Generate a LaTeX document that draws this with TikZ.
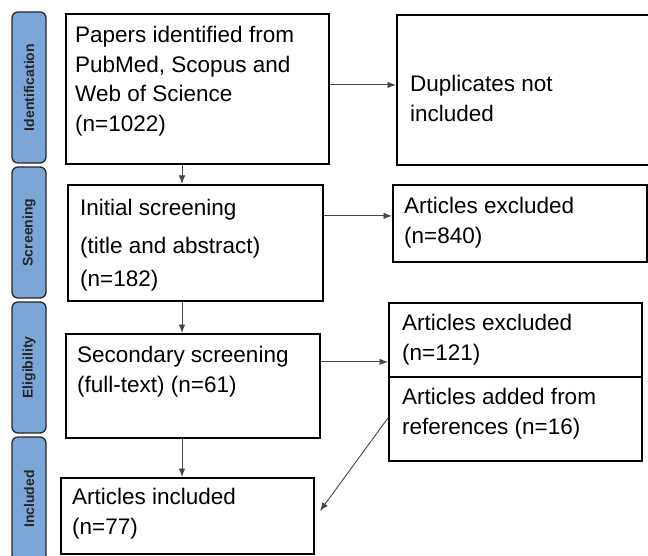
\documentclass[tikz,border=0pt]{standalone}
\usepackage{fontspec}
\setmainfont{Liberation Sans}
\usetikzlibrary{arrows.meta}
\definecolor{sideblue}{RGB}{125,166,216}
\definecolor{arrgray}{RGB}{70,70,70}
\begin{document}
\begin{tikzpicture}[x=1pt,y=-1pt,
  sidebar/.style={draw=black!85, line width=1.3pt, fill=sideblue, rounded corners=6pt,
    minimum height=34pt, inner sep=0pt, rotate=90,
    font=\fontsize{14}{16}\selectfont\bfseries, text=black!85},
  box/.style={draw=black, line width=1.8pt, inner sep=0pt, anchor=north west},
  txt/.style={anchor=north west, inner sep=0pt, align=left,
    font=\fontsize{22.5}{29.5}\selectfont},
  arr/.style={draw=arrgray, line width=0.9pt, -{Latex[length=8.5pt,width=6.5pt]}}]
\useasboundingbox (0,0) rectangle (648,556);
\clip (0,0) rectangle (648,556);
% side bars
\node[sidebar, minimum width=151pt] (sid) at (29,87.5) {Identification};
\node[sidebar, minimum width=131pt] (sscr) at (29,232.5) {Screening};
\node[sidebar, minimum width=131pt] (self) at (29,367.5) {Eligibility};
\node[sidebar, minimum width=124pt] (sinc) at (29,499) {Included};
% boxes
\node[box, minimum width=263pt, minimum height=150pt] (p1) at (65,13) {};
\node[box, minimum width=252pt, minimum height=150pt] (dup) at (396,14) {};
\node[box, minimum width=255pt, minimum height=116pt] (b2) at (67,184) {};
\node[box, minimum width=254pt, minimum height=77pt] (b3) at (392,184) {};
\node[box, minimum width=254pt, minimum height=104pt] (b4) at (65,333) {};
\node[box, minimum width=253pt, minimum height=74pt] (b5a) at (388,302) {};
\node[box, minimum width=253pt, minimum height=84pt] (b5b) at (388,376) {};
\node[box, minimum width=253pt, minimum height=76pt] (b6) at (60,477) {};
% texts
\node[txt] (p1t) at ([xshift=10pt,yshift=-13pt]p1.north west) {Papers identified from\\PubMed, Scopus and\\Web of Science\\(n=1022)};
\node[txt] (dupt) at ([xshift=14pt,yshift=-61pt]dup.north west) {Duplicates not\\included};
\node[txt] (b2t) at ([xshift=13pt,yshift=-15pt]b2.north west) {Initial screening\\[8pt](title and abstract)\\[4pt](n=182)};
\node[txt] (b3t) at ([xshift=12pt,yshift=-13pt]b3.north west) {Articles excluded\\(n=840)};
\node[txt] (b4t) at ([xshift=12pt,yshift=-13pt]b4.north west) {Secondary screening\\(full-text) (n=61)};
\node[txt] (b5at) at ([xshift=14pt,yshift=-12pt]b5a.north west) {Articles excluded\\(n=121)};
\node[txt] (b5bt) at ([xshift=14pt,yshift=-12pt]b5b.north west) {Articles added from\\references (n=16)};
\node[txt] (b6t) at ([xshift=12pt,yshift=-11pt]b6.north west) {Articles included\\(n=77)};
% connectors
\coordinate (vx) at (182,0);
\draw[arr] (vx |- p1.south) -- (vx |- b2.north);
\draw[arr] (vx |- b2.south) -- (vx |- b4.north);
\draw[arr] (vx |- b4.south) -- (vx |- b6.north);
\draw[arr] ([yshift=4pt]p1.east) -- ([yshift=4pt]p1.east -| dup.west);
\draw[arr] ([yshift=27pt]b2.east) -- ([yshift=27pt]b2.east -| b3.west);
\draw[arr] ([yshift=24pt]b4.east) -- ([yshift=24pt]b4.east -| b5a.west);
\coordinate (dg) at ([yshift=-42pt]b5b.north west);
\coordinate (dgend) at (320,511);
\draw[arr] (dg) -- (dgend);
\end{tikzpicture}
\end{document}
